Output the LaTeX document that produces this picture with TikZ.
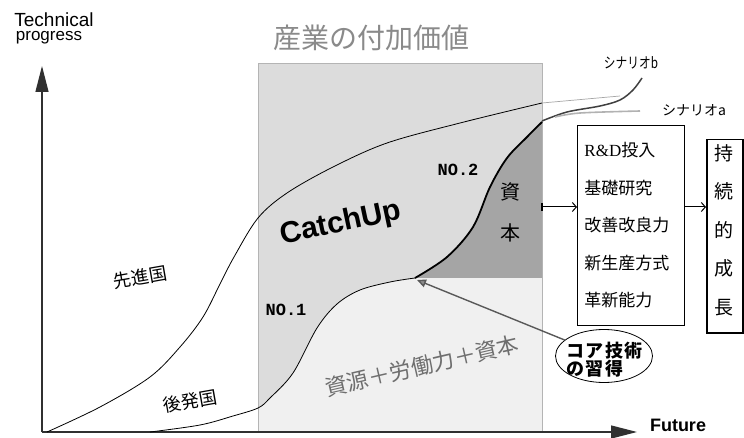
\documentclass[tikz,border=0pt]{standalone}
\usepackage{fontspec}
\setmainfont{Liberation Sans}
\newfontfamily\jp{Noto Sans CJK JP}
\newfontfamily\monofnt{Liberation Mono}
\newfontfamily\seriffnt{Liberation Serif}
\usetikzlibrary{arrows.meta,shapes.geometric}
\definecolor{bandfill}{HTML}{DCDCDC}
\definecolor{lowfill}{HTML}{F0F0F0}
\definecolor{capfill}{HTML}{A5A5A5}
\definecolor{bandline}{HTML}{B4B4B4}
\definecolor{titlegray}{HTML}{8A8A8A}
\definecolor{textgray}{HTML}{6E6E6E}
\definecolor{axiscol}{HTML}{303030}
\tikzset{
  axisline/.style={line width=1.3pt, draw=axiscol, -{Triangle[length=26pt,width=13pt]}},
  curve/.style={line width=0.8pt, draw=black},
  boxarrow/.style={line width=1pt, -{Straight Barb[length=4pt,width=9pt]}},
  corearrow/.style={line width=1.4pt, draw=black!65, -{Triangle[length=9pt,width=8pt,fill=black!45]}},
  jplabel/.style={font=\jp\fontsize{18}{18}\selectfont},
}
\begin{document}
\begin{tikzpicture}[x=1pt,y=-1pt]
\useasboundingbox (0,0) rectangle (744,438);
\fill[white] (0,0) rectangle (744,438);

% band (industry added value)
\node[fill=bandfill, minimum width=284pt, minimum height=368pt, inner sep=0pt, anchor=north west] (band) at (258,64) {};
\begin{scope}
  \clip (258,64) rectangle (542,432);
  \fill[lowfill] plot[smooth, tension=0.55] coordinates {(150,432) (200,425) (233,416) (258,408) (270,398) (293,373) (317,328) (337,304) (360,290) (390,282) (415,278)} -- (542,278) -- (542,440) -- (150,440) -- cycle;
\end{scope}
\fill[capfill] plot[smooth, tension=0.55] coordinates {(415,278) (447,257) (473,227) (490,187) (507,158) (527,137) (542,122)} -- (542,278) -- cycle;
\draw[bandline, line width=1pt] (band.north west) rectangle (band.south east);

% title
\node[font=\jp\fontsize{28}{28}\selectfont, text=titlegray] (title) at (371,38) {産業の付加価値};

% axes
\coordinate (O) at (42,432);
\coordinate (ytip) at (42,66);
\coordinate (xtip) at (637,432);
\draw[axisline] (O) -- (ytip);
\draw[axisline] (O) -- (xtip);
\node[font=\fontsize{19}{19}\selectfont] (tech) at (54,20) {Technical};
\node[font=\fontsize{17}{17}\selectfont] (prog) at (49,38) {progress};
\node[font=\bfseries\fontsize{18}{18}\selectfont] (future) at (678,425) {Future};

% curves
\draw[curve] plot[smooth, tension=0.55] coordinates {(47,432) (100,407) (150,377) (180,347) (203,317) (220,284) (234,257) (258,218) (287,193) (333,167) (387,143) (460,123) (542,103)};
\draw[line width=0.7pt, black!35] (542,103) -- (620,96);
\draw[curve] plot[smooth, tension=0.55] coordinates {(150,432) (200,425) (233,416) (258,408) (270,398) (293,373) (317,328) (337,304) (360,290) (390,282) (415,278)};
\draw[line width=1.8pt] plot[smooth, tension=0.55] coordinates {(415,278) (447,257) (473,227) (490,187) (507,158) (527,137) (542,122)};
\draw[line width=1.5pt, black!75] plot[smooth, tension=0.55] coordinates {(542,121) (567,112) (600,106) (620,100) (633,90) (642,78)};
\draw[line width=1.6pt, black!30] plot[smooth, tension=0.55] coordinates {(555,117) (580,113) (640,111)};
\node[font=\jp\fontsize{15}{15}\selectfont] (scb) at (631,63) {\scalebox{0.78}[1]{シナリオb}};
\node[font=\jp\fontsize{14}{14}\selectfont] (sca) at (694,110) {シナリオa};

% labels in the plot
\node[jplabel, rotate=10] (adv) at (140,277) {先進国};
\node[jplabel, rotate=10] (late) at (190,401) {後発国};
\node[font=\bfseries\fontsize{30}{30}\selectfont, rotate=12] (catch) at (341,224) {CatchUp};
\node[font=\monofnt\bfseries\fontsize{17}{17}\selectfont] (no1) at (286,310) {NO.1};
\node[font=\monofnt\bfseries\fontsize{17}{17}\selectfont] (no2) at (458,170) {NO.2};
\node[font=\jp\fontsize{20}{20}\selectfont] (shi) at (510,192) {資};
\node[font=\jp\fontsize{20}{20}\selectfont] (hon) at (510,233) {本};
\node[font=\jp\fontsize{22}{22}\selectfont, text=textgray, rotate=13] (res) at (422,366) {資源＋労働力＋資本};

% core technology
\coordinate (cp) at (417,280);
\node[ellipse, draw, line width=0.8pt, minimum width=97pt, minimum height=53pt, inner sep=0pt] (core) at (604,356) {};
\node[font=\jp\bfseries\fontsize{18}{17}\selectfont\addfontfeature{LetterSpace=8}, align=left, anchor=west, inner sep=0pt] (coretext) at (566,360) {コア技術\\の習得};
\draw[corearrow] (core) -- (cp);

% boxes
\node[draw, line width=0.9pt, minimum width=107pt, minimum height=200pt, inner sep=0pt, anchor=north west] (rd) at (577,125) {};
\node[font=\jp\fontsize{17}{37.5}\selectfont, text width=93pt, align=left, inner sep=0pt] (rdtext) at (rd.center) {{\seriffnt R\&D}投入\\基礎研究\\改善改良力\\新生産方式\\革新能力};
\node[draw, line width=1.5pt, minimum width=36pt, minimum height=193pt, inner sep=0pt, anchor=north west] (growth) at (706,139) {};
\node[font=\jp\fontsize{19}{38.5}\selectfont, align=center, inner sep=0pt] (growthtext) at (724,230) {持\\続\\的\\成\\長};

\coordinate (bandR) at (542,207);
\draw[line width=2.5pt] (542,203) -- (542,211);
\draw[boxarrow] (bandR) -- (bandR -| rd.west);
\draw[boxarrow] (rd.east |- bandR) -- (growth.west |- bandR);
\end{tikzpicture}
\end{document}
